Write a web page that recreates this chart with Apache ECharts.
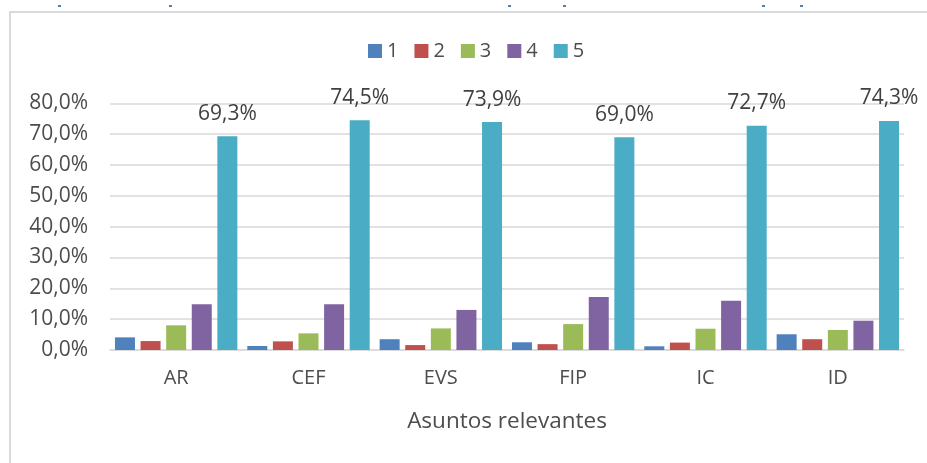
<!DOCTYPE html>
<html>
<head>
<meta charset="utf-8">
<script src="https://cdn.jsdelivr.net/npm/echarts@6/dist/echarts.min.js"></script>
<style>
  html, body { margin: 0; padding: 0; background: #fff; }
  #main { width: 927px; height: 463px; }
</style>
</head>
<body>
<div id="main"></div>
<script>
// categorias y series (porcentajes)
var categories = ['AR', 'CEF', 'EVS', 'FIP', 'IC', 'ID'];
var seriesNames = ['1', '2', '3', '4', '5'];
var s1 = [4.1, 1.3, 3.5, 2.5, 1.2, 5.1];
var s2 = [2.9, 2.8, 1.6, 1.9, 2.4, 3.5];
var s3 = [8.0, 5.4, 7.0, 8.4, 6.9, 6.5];
var s4 = [14.8, 14.8, 13.0, 17.2, 16.0, 9.5];
var s5 = [69.3, 74.5, 73.9, 69.0, 72.7, 74.3];
var colors = ['#4f81bd', '#c0504d', '#9bbb59', '#8064a2', '#4bacc6'];

var font = 'Open Sans';
var txt = '#4d4d4d';
var pct = function (v) { return v.toFixed(1).replace('.', ',') + '%'; };

var allData = [s1, s2, s3, s4, s5];
var series = allData.map(function (d, i) {
  return {
    name: seriesNames[i],
    type: 'bar',
    barWidth: 20,
    barGap: '28%',
    itemStyle: { color: colors[i] },
    label: {
      show: i === 4,
      position: 'top',
      distance: 12,
      fontFamily: font,
      fontSize: 21,
      color: '#404040',
      formatter: function (p) { return pct(p.value); }
    },
    data: d
  };
});

var option = {
  animation: false,
  color: colors,
  legend: {
    data: seriesNames,
    left: 363,
    top: 36,
    icon: 'rect',
    itemWidth: 14,
    itemHeight: 14,
    itemGap: 16,
    textStyle: { fontFamily: font, fontSize: 20, color: txt }
  },
  grid: { left: 110, right: 23, top: 103.3, bottom: 113 },
  xAxis: {
    type: 'category',
    data: categories,
    name: 'Asuntos relevantes',
    nameLocation: 'middle',
    nameGap: 60,
    nameTextStyle: { fontFamily: font, fontSize: 22.5, color: txt },
    axisLine: { lineStyle: { color: '#d9d9d9', width: 1.5 } },
    axisTick: { show: false },
    axisLabel: { margin: 18, fontFamily: font, fontSize: 20, color: txt }
  },
  yAxis: {
    type: 'value',
    min: 0,
    max: 80,
    interval: 10,
    axisLine: { show: false },
    axisTick: { show: false },
    splitLine: { lineStyle: { color: '#d9d9d9', width: 1.5 } },
    axisLabel: {
      margin: 22,
      fontFamily: font,
      fontSize: 21,
      color: txt,
      formatter: function (v) { return pct(v); }
    }
  },
  graphic: [
    { type: 'line', shape: { x1: 9, y1: 12, x2: 927, y2: 12 }, style: { stroke: '#d9d9d9', lineWidth: 2 } },
    { type: 'line', shape: { x1: 10, y1: 12, x2: 10, y2: 463 }, style: { stroke: '#d9d9d9', lineWidth: 2 } },
    { type: 'rect', shape: { x: 58, y: 5, width: 3, height: 2 }, style: { fill: '#5b78b0' } },
    { type: 'rect', shape: { x: 169, y: 5, width: 3, height: 2 }, style: { fill: '#5b78b0' } },
    { type: 'rect', shape: { x: 508, y: 5, width: 3, height: 2 }, style: { fill: '#5b78b0' } },
    { type: 'rect', shape: { x: 563, y: 5, width: 3, height: 2 }, style: { fill: '#5b78b0' } },
    { type: 'rect', shape: { x: 762, y: 5, width: 3, height: 2 }, style: { fill: '#5b78b0' } },
    { type: 'rect', shape: { x: 800, y: 5, width: 3, height: 2 }, style: { fill: '#5b78b0' } }
  ],
  series: series
};

var chart = echarts.init(document.getElementById('main'));
chart.setOption(option);
</script>
</body>
</html>
